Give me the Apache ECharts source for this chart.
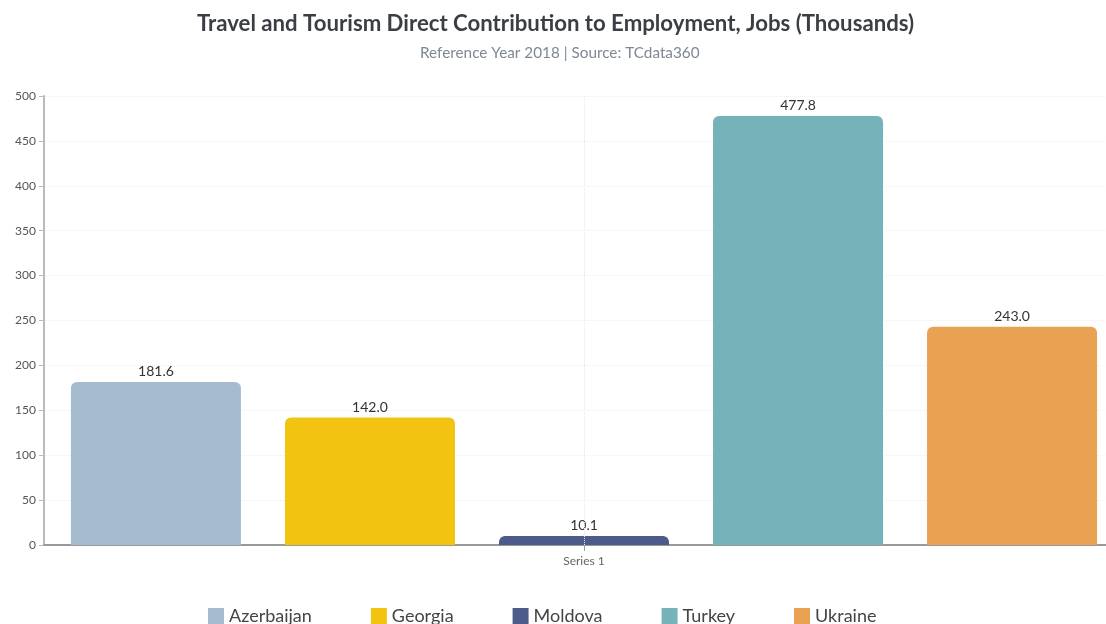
<!DOCTYPE html>
<html><head><meta charset="utf-8">
<script src="https://cdn.jsdelivr.net/npm/echarts@6/dist/echarts.min.js"></script>
<style>html,body{margin:0;padding:0;background:#fff}#c{width:1106px;height:624px}</style>
</head><body><div id="c"></div>
<script>
const categories = ['Series 1'];
const countries = ['Azerbaijan', 'Georgia', 'Moldova', 'Turkey', 'Ukraine'];
const values = [181.6, 142.0, 10.1, 477.8, 243.0];
const colors = ['#a5bbd0', '#f2c311', '#4d5b8a', '#76b2b9', '#e9a252'];
const yTicks = [0, 50, 100, 150, 200, 250, 300, 350, 400, 450, 500];
const titleText = 'Travel and Tourism Direct Contribution to Employment, Jobs (Thousands)';
const subtitleText = 'Reference Year 2018 | Source: TCdata360';

const chart = echarts.init(document.getElementById('c'));
const series = countries.map((name, i) => ({
  name: name,
  type: 'bar',
  data: [values[i]],
  barWidth: 170,
  barGap: '25.9%',
  itemStyle: { color: colors[i], borderRadius: [6, 6, 0, 0] },
  label: { show: true, position: 'top', distance: 3, color: '#333', fontSize: 14, fontFamily: 'Lato',
    formatter: p => p.value.toFixed(1) }
}));
series.push({
  name: 'guide', type: 'line', data: [null], symbol: 'none', silent: true,
  markLine: {
    silent: true, symbol: 'none', label: { show: false },
    lineStyle: { color: '#e6e6e6', type: 'dotted', width: 1 },
    data: [{ xAxis: 'Series 1' }]
  }
});
chart.setOption({
  animation: false,
  title: [{
    text: titleText, left: 192, top: 8,
    textStyle: { fontFamily: 'Lato', fontSize: 22.2, fontWeight: 'bold', color: '#3b3f45' }
  }, {
    text: subtitleText, left: 415, top: 41,
    textStyle: { fontFamily: 'Lato', fontSize: 15.3, fontWeight: 'normal', color: '#7e8894' }
  }],
  legend: {
    data: countries, top: 602, left: 203, itemWidth: 16, itemHeight: 16, itemGap: 59,
    icon: 'rect',
    textStyle: { fontFamily: 'Lato', fontSize: 18, color: '#444' }
  },
  grid: { left: 44, right: -18, top: 96, bottom: 79, outerBoundsMode: 'none' },
  xAxis: {
    type: 'category', data: categories,
    axisLine: { lineStyle: { color: '#999', width: 2 } },
    axisTick: { show: true, alignWithLabel: true, length: 6, lineStyle: { color: '#999' } },
    axisLabel: { color: '#666', fontSize: 12, fontFamily: 'Lato', margin: 10 }
  },
  yAxis: {
    type: 'value', min: 0, max: 500, interval: 50,
    axisLine: { show: true, lineStyle: { color: '#bbb', width: 2 } },
    axisTick: { show: true, length: 5, lineStyle: { color: '#bbb' } },
    axisLabel: { color: '#555', fontSize: 12, fontFamily: 'Lato', margin: 8,
      formatter: v => yTicks.includes(v) ? String(v) : '' },
    splitLine: { lineStyle: { color: '#eeeeee', type: 'dotted' } }
  },
  series: series
});
</script></body></html>
